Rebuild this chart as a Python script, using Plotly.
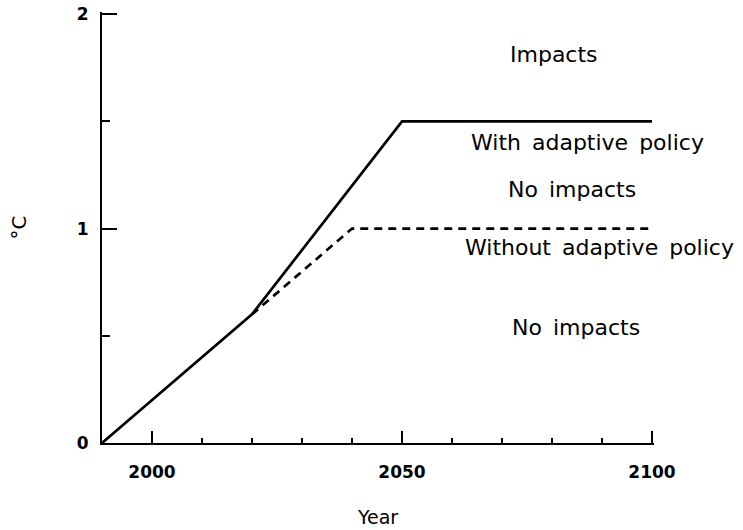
import plotly.graph_objects as go

# Data
years_with = [1990, 2020, 2050, 2100]
temp_with = [0.0, 0.6, 1.5, 1.5]
years_without = [2020, 2040, 2100]
temp_without = [0.6, 1.0, 1.0]

x_major_ticks = [2000, 2050, 2100]
x_major_labels = ["2000", "2050", "2100"]
y_major_ticks = [0, 1, 2]
y_major_labels = ["0", "1", "2"]

region_labels = ["Impacts", "With adaptive policy", "No impacts",
                 "Without adaptive policy", "No impacts"]
region_label_x = [0.819, 0.879, 0.852, 0.902, 0.859]   # paper fraction
region_label_y = [1.81, 1.40, 1.18, 0.91, 0.54]        # °C

FONT = "DejaVu Sans"

fig = go.Figure()
fig.add_trace(go.Scatter(x=years_with, y=temp_with, mode="lines",
                         line=dict(color="black", width=2.7),
                         cliponaxis=False, showlegend=False, hoverinfo="skip"))
fig.add_trace(go.Scatter(x=years_without, y=temp_without, mode="lines",
                         line=dict(color="black", width=2.7, dash="8px,6px"),
                         cliponaxis=False, showlegend=False, hoverinfo="skip"))

for txt, xp, yv in zip(region_labels, region_label_x, region_label_y):
    fig.add_annotation(text=txt.replace(" ", "\u2002"), x=xp, y=yv,
                       xref="paper", yref="y",
                       showarrow=False, xanchor="center", yanchor="middle",
                       font=dict(family=FONT, size=22, color="black"))

fig.update_xaxes(range=[1990, 2100.4], showgrid=False, zeroline=False,
                 showline=True, linecolor="black", linewidth=2,
                 ticks="inside", ticklen=12, tickwidth=2, tickcolor="black",
                 tickmode="array", tickvals=x_major_ticks, ticktext=x_major_labels,
                 minor=dict(tickmode="linear", tick0=1990, dtick=10, ticks="inside",
                            ticklen=5, tickwidth=2, tickcolor="black"),
                 tickfont=dict(family=FONT, size=17, color="black", weight="bold"),
                 ticklabelstandoff=13, ticklabeloverflow="allow",
                 title=dict(text="Year", font=dict(family=FONT, size=19, color="black"),
                            standoff=29))
fig.update_yaxes(range=[0, 2.01], showgrid=False, zeroline=False,
                 showline=True, linecolor="black", linewidth=2,
                 ticks="inside", ticklen=15, tickwidth=2, tickcolor="black",
                 tickmode="array", tickvals=y_major_ticks, ticktext=y_major_labels,
                 minor=dict(tickmode="linear", tick0=0, dtick=0.5, ticks="inside",
                            ticklen=8, tickwidth=2, tickcolor="black"),
                 tickfont=dict(family=FONT, size=17, color="black", weight="bold"),
                 ticklabelstandoff=8, ticklabeloverflow="allow",
                 title=dict(text="°C", font=dict(family=FONT, size=20, color="black"),
                            standoff=45))

fig.update_layout(width=743, height=530,
                  margin=dict(l=102, r=89, t=12, b=87, autoexpand=False),
                  plot_bgcolor="white", paper_bgcolor="white",
                  showlegend=False)

fig.write_html("out.html", config={"displayModeBar": False},
               post_script="document.body.style.margin='0';document.body.style.overflow='hidden';")
